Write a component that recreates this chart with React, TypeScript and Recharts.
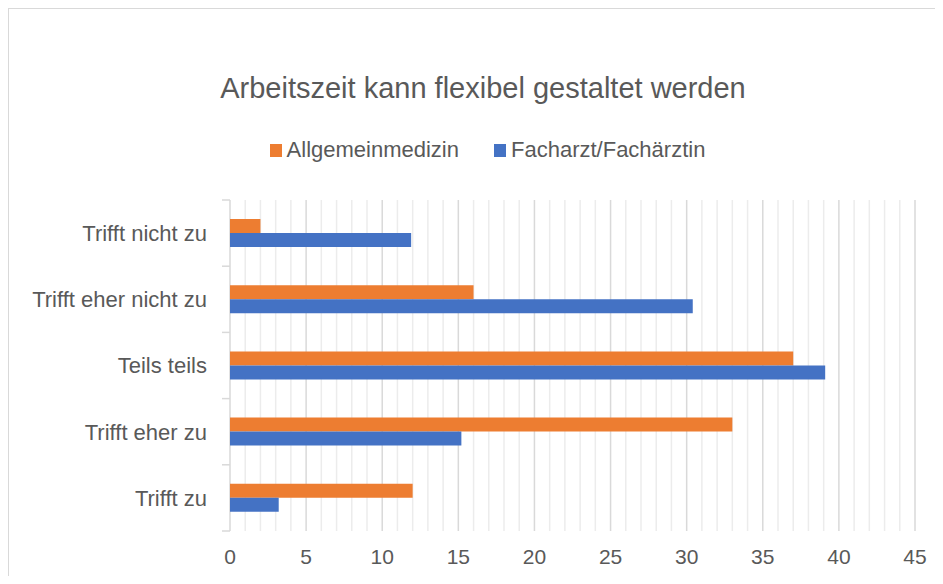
import React from "react";
import { BarChart, Bar, XAxis, YAxis, CartesianGrid, Legend } from "recharts";

const categories = ["Trifft nicht zu", "Trifft eher nicht zu", "Teils teils", "Trifft eher zu", "Trifft zu"];
const allgemeinmedizin = [2, 16, 37, 33, 12];
const facharzt = [11.9, 30.4, 39.1, 15.2, 3.2];
const majorTicks = [0, 5, 10, 15, 20, 25, 30, 35, 40, 45];
const minorTicks = [0, 1, 2, 3, 4, 5, 6, 7, 8, 9, 10, 11, 12, 13, 14, 15, 16, 17, 18, 19, 20, 21, 22, 23, 24, 25, 26, 27, 28, 29, 30, 31, 32, 33, 34, 35, 36, 37, 38, 39, 40, 41, 42, 43, 44, 45];
const seriesNames = ["Allgemeinmedizin", "Facharzt/Fachärztin"];
const seriesColors = ["#ED7D31", "#4472C4"];
const title = "Arbeitszeit kann flexibel gestaltet werden";

const data = categories.map((c, i) => ({
  category: c,
  a: allgemeinmedizin[i],
  f: facharzt[i],
}));

const FONT = '"Liberation Sans", Arial, sans-serif';
const TEXT = "#595959";
const CAT_MARGIN = 23;
const TICK_LEN = 8;
const MAJOR_GRID = "#d9d9d9";
const MINOR_GRID = "#ececec";

const CategoryTick = (props: any) => {
  const { x, y, payload, index, visibleTicksCount } = props;
  const half = payload && payload.offset ? payload.offset : 0;
  const ax = x + CAT_MARGIN;
  const last = index === (visibleTicksCount ?? categories.length) - 1;
  return (
    <g>
      <line x1={ax - TICK_LEN} x2={ax} y1={y - half} y2={y - half} stroke={MAJOR_GRID} strokeWidth={1.5} />
      {last && <line x1={ax - TICK_LEN} x2={ax} y1={y + half} y2={y + half} stroke={MAJOR_GRID} strokeWidth={1.5} />}
      <text x={x} y={y} dy="0.355em" textAnchor="end" fill={TEXT} fontSize={22} fontFamily={FONT}>
        {payload.value}
      </text>
    </g>
  );
};

const ValueTick = (props: any) => {
  const { x, y, payload } = props;
  if (!majorTicks.includes(payload.value)) return <g />;
  return (
    <text x={x} y={y} dy="0.71em" textAnchor="middle" fill={TEXT} fontSize={21} fontFamily={FONT}>
      {payload.value}
    </text>
  );
};

const gridLine = (p: any) => {
  const v = minorTicks[p.index];
  const major = v === undefined || majorTicks.includes(v);
  return (
    <line
      key={p.key}
      x1={p.x1}
      y1={p.y1}
      x2={p.x2}
      y2={p.y2}
      stroke={major ? MAJOR_GRID : MINOR_GRID}
      strokeWidth={1.5}
      fill="none"
    />
  );
};

const renderLegend = () => (
  <div style={{ display: "flex", justifyContent: "center", alignItems: "center", fontFamily: FONT, fontSize: 22, color: TEXT, lineHeight: "22px" }}>
    {seriesNames.map((n, i) => (
      <div key={n} style={{ display: "flex", alignItems: "center", marginLeft: i === 0 ? 0 : 35 }}>
        <span style={{ display: "inline-block", width: 12, height: 13, background: seriesColors[i], marginRight: 5 }} />
        <span>{n}</span>
      </div>
    ))}
  </div>
);

export default function App() {
  return (
    <div style={{ position: "relative", width: 934, height: 567, borderLeft: "1px solid #d9d9d9", borderTop: "1px solid #d9d9d9", background: "#fff" }}>
      <div style={{ position: "absolute", left: 20, width: 908, top: 65, textAlign: "center", fontFamily: FONT, fontSize: 29, lineHeight: "29px", color: TEXT, whiteSpace: "nowrap" }}>
        {title}
      </div>
      <BarChart
        width={934}
        height={567}
        data={data}
        layout="vertical"
        margin={{ top: 191, right: 28, bottom: 0, left: 0 }}
        barGap={0}
        barSize={14}
      >
        <CartesianGrid horizontal={false} vertical={gridLine} />
        <XAxis
          type="number"
          domain={[0, 45]}
          ticks={minorTicks}
          interval={0}
          axisLine={false}
          tickLine={false}
          tickSize={0}
          tickMargin={18}
          height={45}
          tick={<ValueTick />}
        />
        <YAxis
          type="category"
          dataKey="category"
          width={221}
          axisLine={false}
          tickLine={false}
          tickSize={0}
          tickMargin={CAT_MARGIN}
          interval={0}
          tick={<CategoryTick />}
        />
        <Legend
          verticalAlign="middle"
          align="center"
          content={renderLegend}
          wrapperStyle={{ top: 130, left: 40, width: 877 }}
        />
        <Bar dataKey="a" name={seriesNames[0]} fill={seriesColors[0]} isAnimationActive={false} />
        <Bar dataKey="f" name={seriesNames[1]} fill={seriesColors[1]} isAnimationActive={false} />
      </BarChart>
    </div>
  );
}
